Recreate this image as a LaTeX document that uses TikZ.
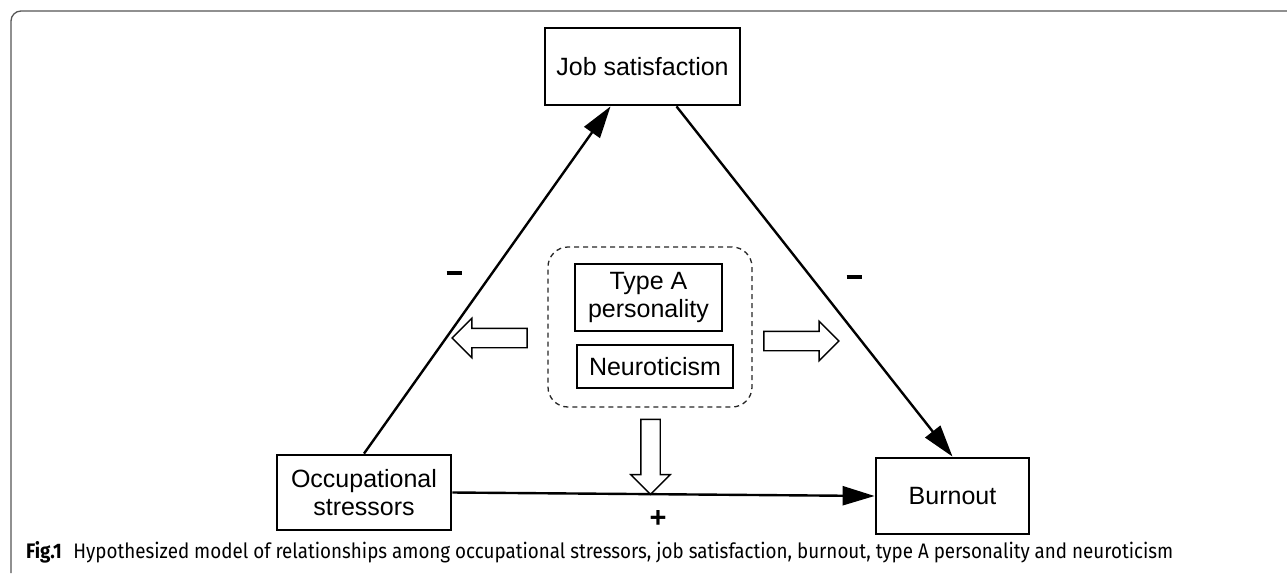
\documentclass[tikz,border=0pt]{standalone}
\usepackage{fontspec}
\setmainfont{Liberation Sans}
\newfontfamily\capfont{Fira Sans}
\usetikzlibrary{shapes.arrows, arrows.meta, calc}
\definecolor{framegray}{HTML}{555555}
\tikzstyle{conceptbox} = [draw, line width=2.8pt, text centered, align=center, inner sep=0pt, font=\fontsize{25}{28}\selectfont]
\tikzstyle{moderatorbox} = [draw=black!85, line width=1.3pt, dash pattern=on 5pt off 4pt, rounded corners=20pt, minimum width=204pt, minimum height=160pt]
\tikzstyle{pathline} = [line width=2.4pt, -{Triangle[length=32pt,width=19pt]}]
\tikzstyle{hollowarrow} = [draw, single arrow, line width=1.4pt, minimum height=75pt, inner sep=9pt, single arrow head extend=10pt]
\tikzstyle{signlabel} = [font=\fontsize{29}{32}\selectfont\bfseries]
\newcommand{\minussign}{\rule{15pt}{4pt}}

\begin{document}
\begin{tikzpicture}[x=1pt, y=-1pt]
		\useasboundingbox (0,0) rectangle (1287,573);
		\draw [framegray, line width=1.3pt, rounded corners=10pt] (11,573) -- (11,11) -- (1287,11);
		\node (job_sat) [conceptbox, minimum width=195pt, minimum height=77pt] at (642.5,66.5) {Job satisfaction};
		\node (occ_stress) [conceptbox, minimum width=174pt, minimum height=75pt] at (364,492.5) {Occupational\\stressors};
		\node (burnout) [conceptbox, minimum width=153pt, minimum height=76pt] at (952.5,496) {Burnout};
		\node (moderators) [moderatorbox] at (650,327) {};
		\node (type_a) [conceptbox, minimum width=147pt, minimum height=67pt] at (648.5,297.5) {Type A\\personality};
		\node (neuro) [conceptbox, minimum width=156pt, minimum height=43pt] at (655,366.5) {Neuroticism};
		\draw [pathline] (occ_stress.north) -- ([xshift=-32pt]job_sat.south);
		\draw [pathline] ([xshift=34pt]job_sat.south) -- (burnout.north);
		\draw [pathline] (occ_stress.east) -- (burnout.west);
		\node (sign_left) [signlabel] at (454,273) {\minussign};
		\node (sign_right) [signlabel] at (854,277) {\minussign};
		\node (sign_bottom) [signlabel] at (658,519) {+};
		\node (mod_left) [hollowarrow, shape border rotate=180] at (494.5,338) {};
		\node (mod_right) [hollowarrow] at (796.5,341) {};
		\node (mod_down) [hollowarrow, shape border rotate=270] at (650.5,452) {};
		\node (caption) [anchor=west, inner sep=0pt] at (26,552) {\resizebox{1147pt}{\height}{\capfont\fontsize{21}{24}\selectfont\textbf{Fig.1}\hspace{13pt}Hypothesized model of relationships among occupational stressors, job satisfaction, burnout, type A personality and neuroticism}};
	\end{tikzpicture}
\end{document}
